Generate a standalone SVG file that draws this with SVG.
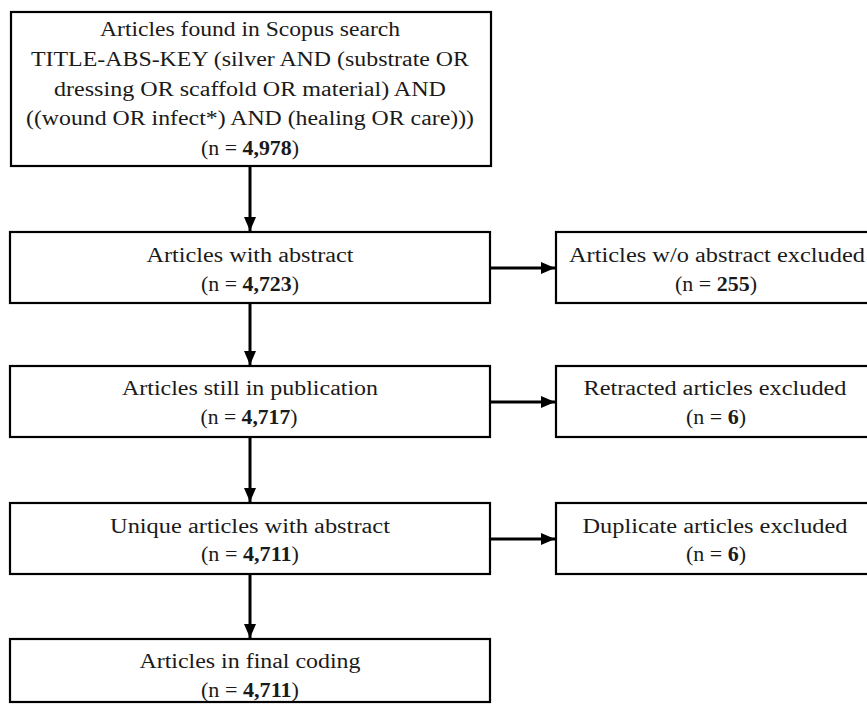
<svg xmlns="http://www.w3.org/2000/svg" width="867" height="704" viewBox="0 0 867 704">
<style>
.box{fill:#fff;stroke:#000;stroke-width:2.2}
.t{font-family:"Liberation Serif","DejaVu Serif",serif;font-size:20px;fill:#1a1a1a;text-anchor:middle}
.b{font-weight:bold}
.c{stroke:#000;stroke-width:3;fill:none}
</style>
<defs>
<marker id="ah" markerUnits="userSpaceOnUse" viewBox="0 0 14 12" refX="14" refY="6" markerWidth="14" markerHeight="12" orient="auto">
<path d="M0,0 L14,6 L0,12 z" fill="#000"/>
</marker>
</defs>
<rect width="867" height="704" fill="#fff"/>
<g id="connectors">
<line class="c" x1="250" y1="166" x2="250" y2="231" marker-end="url(#ah)"/>
<line class="c" x1="250" y1="303" x2="250" y2="365" marker-end="url(#ah)"/>
<line class="c" x1="250" y1="437" x2="250" y2="502" marker-end="url(#ah)"/>
<line class="c" x1="250" y1="574" x2="250" y2="638" marker-end="url(#ah)"/>
<line class="c" x1="490" y1="268" x2="555" y2="268" marker-end="url(#ah)"/>
<line class="c" x1="490" y1="402" x2="555" y2="402" marker-end="url(#ah)"/>
<line class="c" x1="490" y1="539" x2="555" y2="539" marker-end="url(#ah)"/>
</g>
<g id="n1">
<rect class="box" x="11" y="12" width="480" height="154"/>
<text class="t" x="250" y="36" textLength="300" lengthAdjust="spacingAndGlyphs">Articles found in Scopus search</text>
<text class="t" x="250" y="66" textLength="438" lengthAdjust="spacingAndGlyphs">TITLE-ABS-KEY (silver AND (substrate OR</text>
<text class="t" x="250" y="96" textLength="392" lengthAdjust="spacingAndGlyphs">dressing OR scaffold OR material) AND</text>
<text class="t" x="250" y="125" textLength="448" lengthAdjust="spacingAndGlyphs">((wound OR infect*) AND (healing OR care)))</text>
<text class="t" x="250" y="155" textLength="98" lengthAdjust="spacingAndGlyphs">(n = <tspan class="b">4,978</tspan>)</text>
</g>
<g id="n2">
<rect class="box" x="10" y="232" width="480" height="71"/>
<text class="t" x="250" y="262" textLength="207" lengthAdjust="spacingAndGlyphs">Articles with abstract</text>
<text class="t" x="250" y="291" textLength="98" lengthAdjust="spacingAndGlyphs">(n = <tspan class="b">4,723</tspan>)</text>
</g>
<g id="n2x">
<rect class="box" x="556" y="232" width="322" height="71"/>
<text class="t" x="717" y="262" textLength="296" lengthAdjust="spacingAndGlyphs">Articles w/o abstract excluded</text>
<text class="t" x="716" y="291" textLength="82" lengthAdjust="spacingAndGlyphs">(n = <tspan class="b">255</tspan>)</text>
</g>
<g id="n3">
<rect class="box" x="10" y="366" width="480" height="71"/>
<text class="t" x="250" y="395" textLength="256" lengthAdjust="spacingAndGlyphs">Articles still in publication</text>
<text class="t" x="249" y="424" textLength="97" lengthAdjust="spacingAndGlyphs">(n = <tspan class="b">4,717</tspan>)</text>
</g>
<g id="n3x">
<rect class="box" x="556" y="366" width="322" height="71"/>
<text class="t" x="715" y="395" textLength="263" lengthAdjust="spacingAndGlyphs">Retracted articles excluded</text>
<text class="t" x="716" y="424" textLength="60" lengthAdjust="spacingAndGlyphs">(n = <tspan class="b">6</tspan>)</text>
</g>
<g id="n4">
<rect class="box" x="10" y="503" width="480" height="71"/>
<text class="t" x="250" y="533" textLength="280" lengthAdjust="spacingAndGlyphs">Unique articles with abstract</text>
<text class="t" x="250" y="561" textLength="98" lengthAdjust="spacingAndGlyphs">(n = <tspan class="b">4,711</tspan>)</text>
</g>
<g id="n4x">
<rect class="box" x="556" y="503" width="322" height="71"/>
<text class="t" x="715" y="533" textLength="265" lengthAdjust="spacingAndGlyphs">Duplicate articles excluded</text>
<text class="t" x="716" y="561" textLength="60" lengthAdjust="spacingAndGlyphs">(n = <tspan class="b">6</tspan>)</text>
</g>
<g id="n5">
<rect class="box" x="10" y="639" width="480" height="63"/>
<text class="t" x="250" y="668" textLength="221" lengthAdjust="spacingAndGlyphs">Articles in final coding</text>
<text class="t" x="250" y="697" textLength="98" lengthAdjust="spacingAndGlyphs">(n = <tspan class="b">4,711</tspan>)</text>
</g>
</svg>
